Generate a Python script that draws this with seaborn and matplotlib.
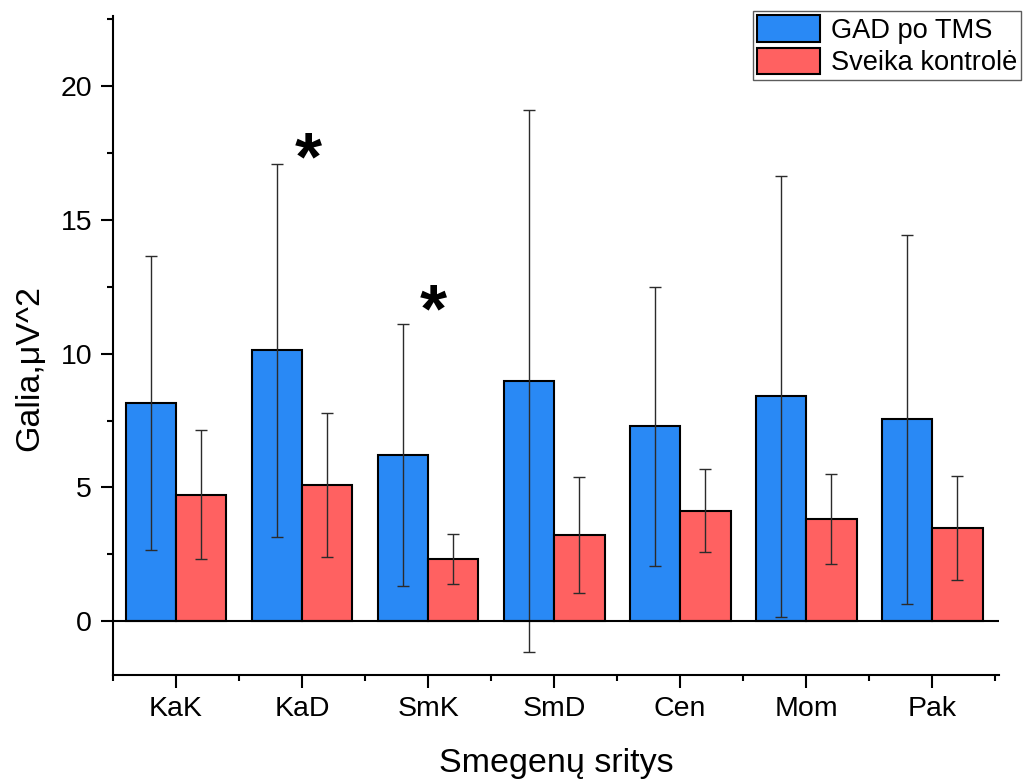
import numpy as np
import pandas as pd
import matplotlib
matplotlib.use("Agg")
import matplotlib.pyplot as plt
import seaborn as sns

# Mean spectral power per brain region with standard deviations
regions = ["KaK", "KaD", "SmK", "SmD", "Cen", "Mom", "Pak"]
groups = ["GAD po TMS", "Sveika kontrolė"]
gad_mean = [8.15, 10.12, 6.22, 8.97, 7.28, 8.40, 7.54]
gad_err = [5.50, 6.96, 4.89, 10.12, 5.20, 8.22, 6.89]
ctrl_mean = [4.73, 5.10, 2.34, 3.22, 4.14, 3.82, 3.48]
ctrl_err = [2.40, 2.69, 0.93, 2.17, 1.55, 1.67, 1.94]

# Significance markers: (region, offset within group, baseline height)
star_regions = ["KaD", "SmK"]
star_offsets = [0.05, 0.04]
star_y = [16.5, 10.82]

colors = ["#2989F5", "#FF6161"]

sns.set_theme(style="ticks")
plt.rcParams["font.family"] = ["Liberation Sans", "DejaVu Sans"]
plt.rcParams.update({
    "text.color": "black",
    "axes.labelcolor": "black",
    "xtick.color": "black",
    "ytick.color": "black",
})

df = pd.DataFrame({
    "region": regions * 2,
    "value": gad_mean + ctrl_mean,
    "group": [groups[0]] * len(regions) + [groups[1]] * len(regions),
})

fig = plt.figure(figsize=(10.27, 7.8), dpi=100)
ax = fig.add_axes([113 / 1027, 105 / 780, 886 / 1027, 659 / 780])

sns.barplot(
    data=df, x="region", y="value", hue="group", hue_order=groups,
    order=regions, palette=colors, width=0.8, errorbar=None,
    edgecolor="black", linewidth=1.5, saturation=1, ax=ax, zorder=2,
)

# Error bars centred on each drawn bar
for container, errs in zip(ax.containers, [gad_err, ctrl_err]):
    xs = [b.get_x() + b.get_width() / 2 for b in container]
    ys = [b.get_height() for b in container]
    ax.errorbar(xs, ys, yerr=errs, fmt="none", ecolor="#2b2b2b",
                elinewidth=1.0, capsize=4.5, capthick=1.0, zorder=3)

ax.axhline(0, color="black", lw=1.5, zorder=4)

for reg, off, y in zip(star_regions, star_offsets, star_y):
    ax.text(regions.index(reg) + off, y, "*", ha="center", va="baseline",
            fontsize=50, fontweight="bold", color="black")

ax.set_xlim(-0.5, 6.53)
ax.set_ylim(-2.0, 22.6)
ax.set_yticks(np.arange(0, 21, 5))
ax.set_yticks(np.arange(-2.5, 23, 2.5)[1:], minor=True)
ax.set_xticks(np.arange(-0.5, 7, 1), minor=True)

for side in ["top", "right"]:
    ax.spines[side].set_visible(False)
for side in ["left", "bottom"]:
    ax.spines[side].set_linewidth(1.5)
    ax.spines[side].set_color("black")

ax.tick_params(axis="both", which="major", direction="out", length=9,
               width=1.5, color="black", labelsize=20.5, pad=6)
ax.tick_params(axis="both", which="minor", direction="out", length=4.5,
               width=1.5, color="black")

ax.set_xlabel("Smegenų sritys", fontsize=24.5, labelpad=19)
ax.set_ylabel("Galia,μV^2", fontsize=24.5)
ax.yaxis.set_label_coords(-0.077, 0.466)

handles, labels = ax.get_legend_handles_labels()
if ax.get_legend() is not None:
    ax.get_legend().remove()
leg = ax.legend(
    handles, labels, loc="upper right",
    bbox_to_anchor=(1021 / 1027, 1 - 11 / 780), bbox_transform=fig.transFigure,
    fontsize=19.6, frameon=True, fancybox=False, borderaxespad=0,
    handlelength=2.3, handleheight=1.12, handletextpad=0.4,
    labelspacing=0.15, borderpad=0.15,
)
leg.get_frame().set_edgecolor("#333333")
leg.get_frame().set_linewidth(1.0)
for h in leg.legend_handles:
    h.set_edgecolor("black")
    h.set_linewidth(1.5)

fig.savefig("out.png", dpi=100, facecolor="white")
